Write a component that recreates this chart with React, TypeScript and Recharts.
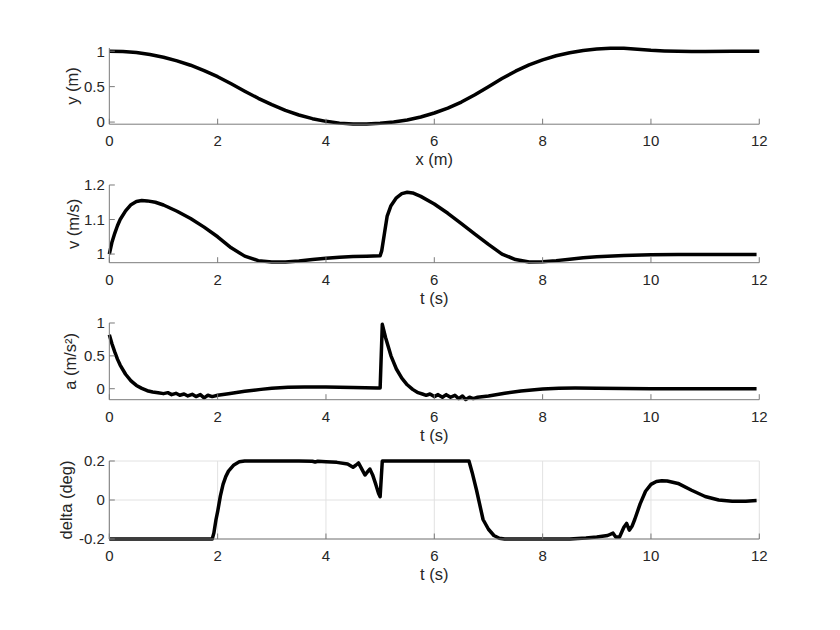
import React from 'react';
import { LineChart, Line, XAxis, YAxis, CartesianGrid } from 'recharts';

// ---------- data ----------
const xTicks = [0, 2, 4, 6, 8, 10, 12];

// Panel 1: path y(x)
const posX = [0, 0.25, 0.5, 0.75, 1, 1.25, 1.5, 1.75, 2, 2.25, 2.5, 2.75, 3, 3.25, 3.5, 3.75, 4, 4.25, 4.5, 4.75, 5, 5.25, 5.5, 5.75, 6, 6.25, 6.5, 6.75, 7, 7.25, 7.5, 7.75, 8, 8.25, 8.5, 8.75, 9, 9.25, 9.5, 9.75, 10, 10.25, 10.5, 10.75, 11, 11.5, 12];
const posY = [1.0, 0.995, 0.98, 0.952, 0.915, 0.864, 0.802, 0.725, 0.64, 0.54, 0.435, 0.335, 0.245, 0.165, 0.1, 0.048, 0.01, -0.015, -0.028, -0.027, -0.018, 0.0, 0.03, 0.072, 0.128, 0.198, 0.282, 0.385, 0.5, 0.615, 0.718, 0.808, 0.878, 0.935, 0.978, 1.01, 1.03, 1.042, 1.04, 1.028, 1.012, 1.003, 0.998, 0.996, 0.997, 0.999, 1.0];
const yTicks1 = [0, 0.5, 1];

// Panel 2: speed v(t)
const tV = [0, 0.05, 0.1, 0.15, 0.2, 0.3, 0.4, 0.5, 0.6, 0.7, 0.85, 1.0, 1.25, 1.5, 1.75, 2.0, 2.25, 2.5, 2.75, 3.0, 3.25, 3.5, 3.75, 4.0, 4.25, 4.5, 4.75, 5.0, 5.03, 5.08, 5.13, 5.2, 5.3, 5.4, 5.5, 5.6, 5.75, 6.0, 6.25, 6.5, 6.75, 7.0, 7.25, 7.5, 7.75, 8.0, 8.25, 8.5, 8.75, 9.0, 9.5, 10, 10.5, 11, 11.95];
const vVals = [1.0, 1.035, 1.06, 1.082, 1.1, 1.125, 1.143, 1.152, 1.155, 1.154, 1.15, 1.142, 1.124, 1.103, 1.078, 1.05, 1.018, 0.994, 0.981, 0.977, 0.977, 0.98, 0.984, 0.988, 0.991, 0.993, 0.994, 0.995, 1.01, 1.06, 1.11, 1.14, 1.163, 1.175, 1.179, 1.177, 1.167, 1.145, 1.118, 1.088, 1.058, 1.028, 1.0, 0.984, 0.977, 0.978, 0.981, 0.985, 0.989, 0.992, 0.996, 0.998, 0.999, 0.999, 0.999];
const yTicks2 = [1, 1.1, 1.2];

// Panel 3: acceleration a(t)
const tA = [0, 0.05, 0.1, 0.15, 0.2, 0.3, 0.4, 0.5, 0.6, 0.7, 0.8, 0.9, 1.0, 1.08, 1.15, 1.23, 1.3, 1.38, 1.45, 1.53, 1.6, 1.68, 1.75, 1.82, 1.9, 2.0, 2.2, 2.5, 2.8, 3.0, 3.3, 3.6, 4.0, 4.5, 4.95, 5.0, 5.04, 5.1, 5.2, 5.3, 5.4, 5.5, 5.6, 5.7, 5.78, 5.85, 5.92, 6.0, 6.07, 6.15, 6.22, 6.3, 6.38, 6.45, 6.52, 6.58, 6.65, 6.72, 6.8, 7.0, 7.3, 7.6, 8.0, 8.3, 8.6, 9.0, 9.5, 10, 11, 11.95];
const aVals = [0.82, 0.68, 0.56, 0.45, 0.36, 0.22, 0.12, 0.05, 0.005, -0.03, -0.05, -0.06, -0.075, -0.06, -0.09, -0.07, -0.1, -0.08, -0.11, -0.085, -0.12, -0.09, -0.14, -0.1, -0.12, -0.1, -0.075, -0.04, -0.01, 0.008, 0.022, 0.028, 0.027, 0.02, 0.01, 0.01, 0.98, 0.78, 0.5, 0.3, 0.16, 0.06, -0.01, -0.06, -0.08, -0.1, -0.08, -0.12, -0.09, -0.13, -0.09, -0.13, -0.1, -0.15, -0.11, -0.165, -0.13, -0.15, -0.13, -0.11, -0.07, -0.035, -0.005, 0.008, 0.01, 0.006, 0.002, 0.0, 0.0, 0.0];
const yTicks3 = [0, 0.5, 1];

// Panel 4: steering delta(t)
const tD = [0, 1.9, 1.93, 1.97, 2.0, 2.05, 2.1, 2.15, 2.2, 2.3, 2.4, 2.5, 3.0, 3.5, 3.75, 3.8, 3.85, 4.0, 4.2, 4.4, 4.5, 4.55, 4.6, 4.65, 4.72, 4.77, 4.81, 4.86, 4.92, 4.97, 5.0, 5.04, 6.0, 6.64, 6.7, 6.78, 6.9, 7.0, 7.1, 7.2, 7.3, 8.5, 8.8, 9.0, 9.2, 9.3, 9.35, 9.42, 9.5, 9.55, 9.6, 9.65, 9.7, 9.8, 9.9, 10.0, 10.1, 10.2, 10.3, 10.5, 10.75, 11.0, 11.25, 11.5, 11.75, 11.95];
const dVals = [-0.2, -0.2, -0.17, -0.1, -0.06, 0.02, 0.08, 0.12, 0.148, 0.18, 0.196, 0.2, 0.2, 0.2, 0.199, 0.195, 0.199, 0.196, 0.193, 0.185, 0.168, 0.178, 0.19, 0.165, 0.128, 0.145, 0.159, 0.13, 0.08, 0.035, 0.017, 0.2, 0.2, 0.2, 0.14, 0.05, -0.1, -0.15, -0.182, -0.196, -0.2, -0.2, -0.195, -0.19, -0.182, -0.17, -0.19, -0.19, -0.14, -0.12, -0.155, -0.135, -0.1, -0.02, 0.045, 0.08, 0.095, 0.099, 0.097, 0.085, 0.05, 0.018, 0.0, -0.006, -0.006, -0.003];
const yTicks4 = [-0.2, 0, 0.2];

const data1 = posX.map((x, i) => ({ x, y: posY[i] }));
const data2 = tV.map((x, i) => ({ x, y: vVals[i] }));
const data3 = tA.map((x, i) => ({ x, y: aVals[i] }));
const data4 = tD.map((x, i) => ({ x, y: dVals[i] }));

// ---------- layout ----------
const PL = 109.3;
const PR = 759.3;
const AXIS = '#7a7a7a';
const TXT = '#262626';
const FONT = '"Liberation Sans", Arial, Helvetica, sans-serif';

type PanelProps = {
  data: { x: number; y: number }[];
  top: number;
  bottom: number;
  yDomain: [number, number];
  yTicks: number[];
  xLabel: string;
  yLabel: string;
  yLabelX: number;
  grid?: boolean;
};

function Panel({ data, top, bottom, yDomain, yTicks, xLabel, yLabel, yLabelX, grid }: PanelProps) {
  const H = 10 + (bottom - top) + 50;
  const yW = 2 * (PL - yLabelX);
  const tickStyle = { fontSize: 15, fill: TXT, fontFamily: FONT };
  return (
    <div style={{ position: 'absolute', left: 0, top: top - 10 }}>
      <LineChart width={840} height={H} data={data} margin={{ top: 10, right: 840 - PR, bottom: 0, left: PL - yW }}>
        {grid && <CartesianGrid stroke="#e2e2e2" strokeWidth={1} />}
        <XAxis
          dataKey="x"
          type="number"
          domain={[0, 12]}
          ticks={xTicks}
          interval={0}
          height={50}
          tickSize={-5.5}
          tickMargin={17}
          stroke={AXIS}
          tick={tickStyle}
          label={{ value: xLabel, position: 'insideBottom', offset: 9, fontSize: 16.5, fill: TXT, fontFamily: FONT }}
        />
        <XAxis
          xAxisId="top"
          orientation="top"
          type="number"
          domain={[0, 12]}
          ticks={xTicks}
          interval={0}
          height={0}
          tickSize={-5.5}
          stroke={AXIS}
          tickFormatter={() => ''}
        />
        <YAxis
          type="number"
          domain={yDomain}
          ticks={yTicks}
          interval={0}
          width={yW}
          tickSize={-5.5}
          tickMargin={10}
          stroke={AXIS}
          tick={tickStyle}
          tickFormatter={(v: number) => String(v)}
          label={{ value: yLabel, angle: -90, position: 'center', fontSize: 16.5, fill: TXT, fontFamily: FONT }}
        />
        <YAxis
          yAxisId="r"
          orientation="right"
          type="number"
          domain={yDomain}
          ticks={yTicks}
          interval={0}
          width={0}
          tickSize={-5.5}
          stroke={AXIS}
          tickFormatter={() => ''}
        />
        <Line
          dataKey="y"
          type="linear"
          stroke="#000000"
          strokeWidth={3.5}
          dot={false}
          activeDot={false}
          isAnimationActive={false}
          strokeLinejoin="round"
        />
      </LineChart>
    </div>
  );
}

export default function App() {
  return (
    <div style={{ position: 'absolute', left: 0, top: 0, width: 840, height: 630, background: '#ffffff', fontFamily: FONT }}>
      <Panel data={data1} top={48.3} bottom={124.5} yDomain={[-0.03, 1.045]} yTicks={yTicks1} xLabel="x (m)" yLabel="y (m)" yLabelX={72} />
      <Panel data={data2} top={185} bottom={262.7} yDomain={[0.975, 1.2]} yTicks={yTicks2} xLabel="t (s)" yLabel="v (m/s)" yLabelX={73} />
      <Panel data={data3} top={323.3} bottom={400} yDomain={[-0.167, 1]} yTicks={yTicks3} xLabel="t (s)" yLabel="a (m/s²)" yLabelX={70} />
      <Panel data={data4} top={461} bottom={539} yDomain={[-0.2, 0.2]} yTicks={yTicks4} xLabel="t (s)" yLabel="delta (deg)" yLabelX={66} grid />
    </div>
  );
}
